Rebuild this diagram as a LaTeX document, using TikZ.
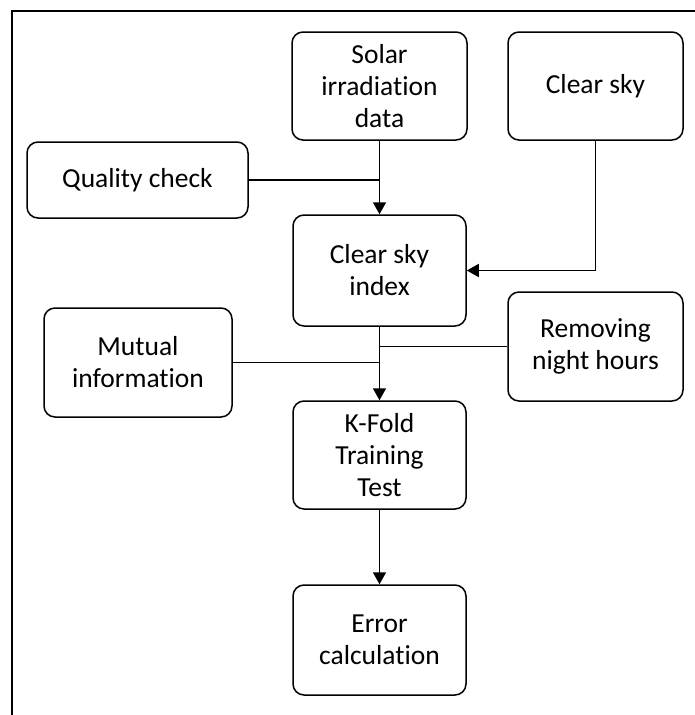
\documentclass[tikz,border=0pt]{standalone}
\usepackage{fontspec}
\setmainfont{Carlito}[Ligatures=NoCommon]
\usetikzlibrary{arrows.meta}
\begin{document}
\begin{tikzpicture}[x=1pt,y=-1pt,
  box/.style={draw, line width=1.5pt, rounded corners=11pt, inner sep=0pt,
    align=center, font=\fontsize{27.5}{32}\selectfont, fill=white},
  conn/.style={line width=1.6pt},
  arr/.style={conn, -{Triangle[width=13pt,length=12pt]}}]
\useasboundingbox (0,0) rectangle (695,715);
\fill[white] (0,0) rectangle (695,715);
\draw[line width=2.5pt] (12,716) -- (12,11) -- (696,11);

\node[box, minimum width=175pt, minimum height=108pt] (solar) at (379.5,86) {Solar\\irradiation\\data};
\node[box, minimum width=175pt, minimum height=108pt] (clear) at (595.5,86) {Clear sky};
\node[box, minimum width=221pt, minimum height=76pt] (quality) at (137.5,180) {Quality check};
\node[box, minimum width=173pt, minimum height=111pt] (csi) at (379.5,270.5) {Clear sky\\index};
\node[box, minimum width=188pt, minimum height=109pt] (mutual) at (138,362.5) {Mutual\\information};
\node[box, minimum width=175pt, minimum height=109pt] (night) at (595.5,346.5) {Removing\\night hours};
\node[box, minimum width=173pt, minimum height=108pt] (kfold) at (379.5,455) {K-Fold\\Training\\Test};
\node[box, minimum width=173pt, minimum height=110pt] (error) at (379.5,640) {Error\\calculation};

\draw[arr] (solar.south) -- (csi.north);
\draw[conn] (quality.east) -- (quality.east -| solar.south);
\draw[arr] (clear.south) |- (csi.east);
\draw[arr] (csi.south) -- (kfold.north);
\draw[conn] (night.west) -- (night.west -| csi.south);
\draw[conn] (mutual.east) -- (mutual.east -| csi.south);
\draw[arr] (kfold.south) -- (error.north);
\end{tikzpicture}
\end{document}
